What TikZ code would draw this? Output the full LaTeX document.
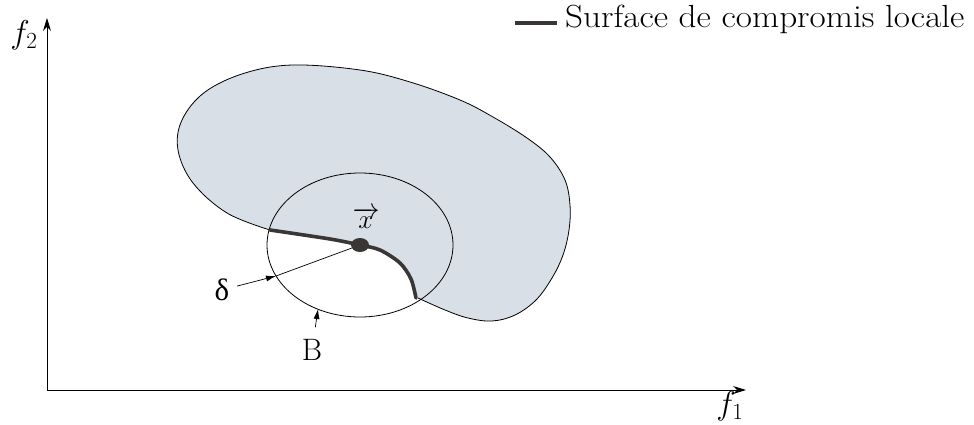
\RequirePackage{fix-cm}
\documentclass[tikz,border=0pt]{standalone}
\usepackage{fontspec}
\newfontfamily\grfont{Liberation Serif}
\usetikzlibrary{arrows.meta,positioning,shapes.geometric}
\definecolor{zonegray}{RGB}{216,223,231}
\definecolor{curvegray}{RGB}{58,54,54}

\begin{document}
\begin{tikzpicture}[x=1pt,y=-1pt,>={Stealth[length=13pt,width=8pt]},
  lbl/.style={inner sep=0pt,font=\fontsize{30}{34}\selectfont},
  ptr/.style={line width=.7pt,-{Latex[length=10pt,width=6pt]}},
  localcurve/.style={line width=3.6pt,curvegray,line cap=round}]
\useasboundingbox (0,0) rectangle (974,425);
% feasible region in objective space
\fill[zonegray] plot[smooth,tension=.6] coordinates {(270,230) (227,213) (193,183) (178,150) (182,120) (205,92) (245,73) (293,65) (360,70) (410,82) (460,100) (493,117) (527,138) (550,157) (565,180) (570,205) (569,230) (563,255) (552,278) (536,300) (515,315) (492,321) (468,318) (445,310) (418,298)}
  -- plot[smooth] coordinates {(418,298) (411,279) (400,263) (380,250) (360,245) (330,239) (270,230)} -- cycle;
\draw[line width=.8pt] plot[smooth,tension=.6] coordinates {(270,230) (227,213) (193,183) (178,150) (182,120) (205,92) (245,73) (293,65) (360,70) (410,82) (460,100) (493,117) (527,138) (550,157) (565,180) (570,205) (569,230) (563,255) (552,278) (536,300) (515,315) (492,321) (468,318) (445,310) (418,298)};
% ball B
\draw[line width=.8pt] (360,245) ellipse [x radius=93, y radius=72];
\draw[localcurve] plot[smooth] coordinates {(270,230) (330,239) (360,245) (380,250) (400,263) (411,279) (416,298)};
\node[ellipse,fill=curvegray,minimum width=18pt,minimum height=14pt,inner sep=0pt] (xstar) at (360,245) {};
\node[lbl,font=\fontsize{27}{30}\selectfont] (xlabel) at (366,218) {$\overrightarrow{x}$};
% axes
\coordinate (origin) at (47,390);
\coordinate (f1end) at (746,390);
\coordinate (f2end) at (47,18);
\draw[line width=1pt,->] (origin) -- (f1end);
\draw[line width=1pt,->] (origin) -- (f2end);
\node[lbl,font=\fontsize{33}{36}\selectfont] (f2) at (24,35) {$f_2$};
\node[lbl,font=\fontsize{33}{36}\selectfont] (f1) at (730,406) {$f_1$};
% radius and ball labels
\node[lbl,font=\grfont\fontsize{31}{34}\selectfont] (delta) at (222,290) {δ};
\coordinate (dcross) at (276,276);
\draw[ptr,shorten <=8pt] (delta) -- (dcross);
\draw[line width=.7pt] (dcross) -- (xstar);
\node[lbl,font=\fontsize{31}{34}\selectfont] (ball) at (312,350) {B};
\coordinate (bcross) at (318,309);
\draw[ptr,shorten <=12pt] (ball) -- (bcross);
% legend
\node[lbl,anchor=base west,font=\fontsize{32}{38}\selectfont] (legend) at (565,28) {\scalebox{1.1}[1]{Surface de compromis locale}};
\coordinate (keyA) at (515,23);
\coordinate (keyB) at (557,23);
\draw[localcurve,line cap=butt] (keyA) -- (keyB);
\end{tikzpicture}
\end{document}
